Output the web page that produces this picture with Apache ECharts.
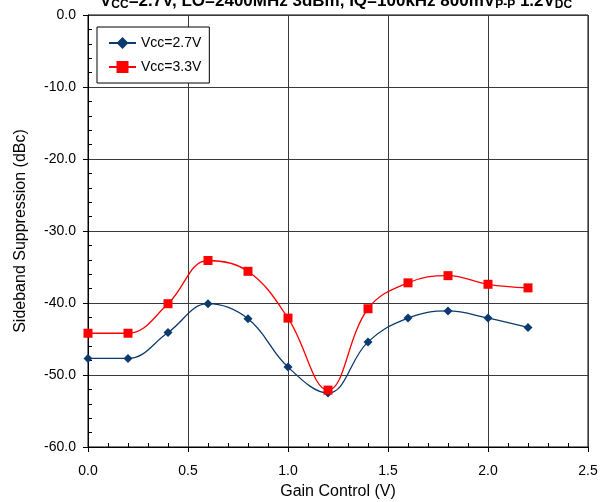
<!DOCTYPE html>
<html>
<head>
<meta charset="utf-8">
<script src="https://cdn.jsdelivr.net/npm/echarts@6/dist/echarts.min.js"></script>
<style>html,body{margin:0;padding:0;background:#fff;}#c{width:608px;height:502px;}</style>
</head>
<body>
<div id="c"></div>
<script>
const gainControl = [0.0, 0.2, 0.4, 0.6, 0.8, 1.0, 1.2, 1.4, 1.6, 1.8, 2.0, 2.2];
const vcc27 = [-47.7, -47.7, -44.1, -40.1, -42.2, -48.9, -52.5, -45.4, -42.1, -41.1, -42.1, -43.4];
const vcc33 = [-44.2, -44.2, -40.1, -34.1, -35.6, -42.1, -52.1, -40.8, -37.2, -36.2, -37.4, -37.9];
const seriesNames = ['Vcc=2.7V', 'Vcc=3.3V'];
const xTicks = {min: 0, max: 2.5, interval: 0.5};
const yTicks = {min: -60, max: 0, interval: 10};

const chart = echarts.init(document.getElementById('c'), null, {renderer: 'canvas'});
const font = 'Liberation Sans, Arial, sans-serif';
const pair = (xs, ys) => xs.map((x, i) => [x, ys[i]]);

chart.setOption({
  animation: false,
  backgroundColor: '#fff',
  textStyle: {fontFamily: font},
  title: {
    left: 100, top: -9, padding: 0,
    text: '{b|V}{s|CC}{b|=2.7V, LO=2400MHz 3dBm, IQ=100kHz 800mV}{s|P-P}{b| 1.2V}{s|DC}',
    textStyle: {
      rich: {
        b: {fontFamily: font, fontWeight: 'bold', fontSize: 17, color: '#000', lineHeight: 20},
        s: {fontFamily: font, fontWeight: 'bold', fontSize: 12, color: '#000', lineHeight: 12, verticalAlign: 'bottom'}
      }
    }
  },
  legend: {
    orient: 'vertical', left: 97, top: 27,
    padding: [9, 8, 9, 11], itemGap: 10, itemWidth: 27, itemHeight: 15,
    borderColor: '#000', borderWidth: 1, backgroundColor: '#fff',
    textStyle: {fontFamily: font, fontSize: 14, color: '#000'},
    data: seriesNames
  },
  grid: {left: 88, right: 20, top: 15, bottom: 55, show: true, borderColor: '#000', borderWidth: 1,
         containLabel: false, outerBoundsMode: 'none'},
  xAxis: [{
    type: 'value', min: xTicks.min, max: xTicks.max, interval: xTicks.interval,
    name: 'Gain Control (V)', nameLocation: 'middle', nameGap: 37,
    nameTextStyle: {fontFamily: font, fontSize: 16, color: '#000'},
    axisLine: {onZero: false, lineStyle: {color: '#000'}},
    axisTick: {show: true, inside: false, length: 5, lineStyle: {color: '#000'}},
    axisLabel: {fontFamily: font, fontSize: 14, color: '#000', margin: 17, formatter: v => v.toFixed(1)},
    splitLine: {show: true, lineStyle: {color: '#3a3a3a', width: 1}}
  }, {
    type: 'value', min: xTicks.min, max: xTicks.max, interval: xTicks.interval, position: 'bottom',
    axisLine: {show: false, onZero: false}, axisLabel: {show: false},
    axisTick: {show: false, inside: true}, splitLine: {show: false},
    minorTick: {show: true, splitNumber: 5, length: 4, lineStyle: {color: '#000'}}
  }],
  yAxis: [{
    type: 'value', min: yTicks.min, max: yTicks.max, interval: yTicks.interval,
    name: 'Sideband Suppression (dBc)', nameLocation: 'middle', nameGap: 59,
    nameTextStyle: {fontFamily: font, fontSize: 16, color: '#000'},
    axisLine: {onZero: false, lineStyle: {color: '#000'}},
    axisTick: {show: true, inside: false, length: 5, lineStyle: {color: '#000'}},
    axisLabel: {fontFamily: font, fontSize: 14, color: '#000', margin: 12, formatter: v => v.toFixed(1)},
    splitLine: {show: true, lineStyle: {color: '#3a3a3a', width: 1}}
  }, {
    type: 'value', min: yTicks.min, max: yTicks.max, interval: yTicks.interval, position: 'left',
    axisLine: {show: false, onZero: false}, axisLabel: {show: false},
    axisTick: {show: false, inside: true}, splitLine: {show: false},
    minorTick: {show: true, splitNumber: 5, length: 4, lineStyle: {color: '#000'}}
  }],
  series: [{
    name: seriesNames[0], type: 'line', smooth: 0.4,
    data: pair(gainControl, vcc27),
    symbol: 'diamond', symbolSize: 9,
    lineStyle: {color: '#0b3a6e', width: 1.3},
    itemStyle: {color: '#0b3a6e'}
  }, {
    name: seriesNames[1], type: 'line', smooth: 0.4,
    data: pair(gainControl, vcc33),
    symbol: 'rect', symbolSize: 9,
    lineStyle: {color: '#ff0000', width: 1.3},
    itemStyle: {color: '#ff0000'}
  }]
});
</script>
</body>
</html>
